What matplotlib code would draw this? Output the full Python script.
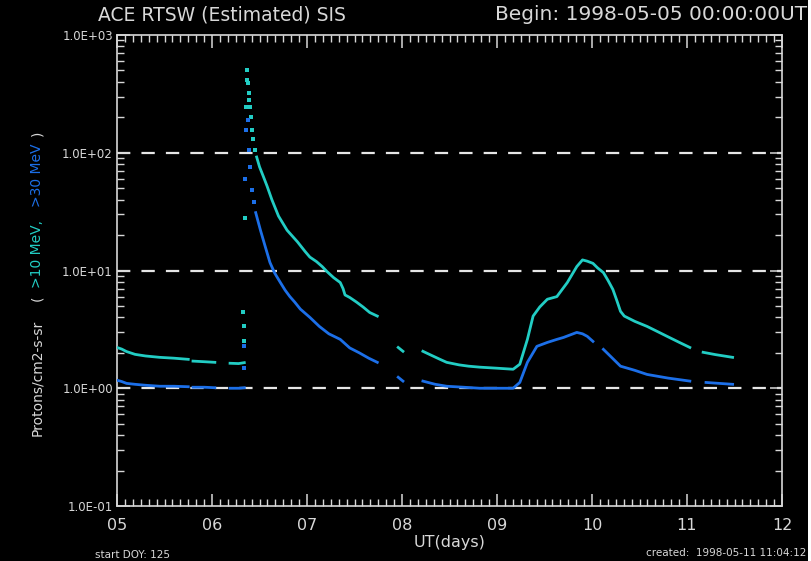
import numpy as np
import matplotlib
matplotlib.use("Agg")
import matplotlib.pyplot as plt
from matplotlib.ticker import FixedLocator, MultipleLocator, LogLocator, FuncFormatter, NullFormatter
from matplotlib.patches import Rectangle

nan = np.nan

# >10 MeV proton flux, dense part (day of May 1998, pfu); nan marks data gaps
p10_day = [5.00, 5.05, 5.10, 5.19, 5.30, 5.45, 5.60, 5.75, nan,
           5.80, 5.92, 6.03, nan,
           6.19, 6.28, 6.34, nan,
           6.47, 6.50, 6.54, 6.58, 6.63, 6.70, 6.79, 6.90, 6.98, 7.03, 7.10,
           7.16, 7.21, 7.28, 7.35, 7.38, 7.40, 7.45, 7.52, 7.59, 7.66, 7.74, nan,
           7.96, 8.01, nan,
           8.22, 8.30, 8.40, 8.47, 8.60, 8.70, 8.82, 9.00, 9.17, 9.24, 9.32,
           9.38, 9.45, 9.53, 9.63, 9.74, 9.84, 9.90, 9.95, 10.01, 10.06, 10.12,
           10.17, 10.22, 10.26, 10.30, 10.34, 10.45, 10.58, 10.70, 10.79, 10.92,
           11.03, nan,
           11.17, 11.30, 11.48]
p10_flux = [2.22, 2.15, 2.05, 1.94, 1.88, 1.83, 1.80, 1.76, nan,
            1.70, 1.68, 1.66, nan,
            1.63, 1.62, 1.65, nan,
            92, 76, 63, 52, 40, 29, 22, 17.5, 14.5, 13.0, 11.9,
            10.8, 9.8, 8.7, 7.9, 7.0, 6.2, 5.9, 5.4, 4.9, 4.4, 4.1, nan,
            2.22, 2.06, nan,
            2.06, 1.92, 1.76, 1.66, 1.58, 1.54, 1.51, 1.48, 1.45, 1.60, 2.6,
            4.1, 4.9, 5.7, 6.0, 7.9, 10.8, 12.3, 12.0, 11.5, 10.5, 9.6,
            8.2, 6.9, 5.6, 4.5, 4.1, 3.7, 3.35, 3.0, 2.76, 2.45,
            2.22, nan,
            2.02, 1.93, 1.83]

# >10 MeV sparse samples around the onset and peak on day 06
p10_spike_day = [6.33, 6.34, 6.34, 6.345, 6.36, 6.37, 6.37, 6.38, 6.39, 6.39,
                 6.40, 6.41, 6.42, 6.43, 6.45]
p10_spike_flux = [4.4, 3.35, 2.5, 28, 245, 500, 415, 390, 320, 280,
                  245, 200, 157, 130, 105]

# >30 MeV proton flux, dense part
p30_day = [5.00, 5.05, 5.10, 5.19, 5.30, 5.45, 5.60, 5.75, nan,
           5.80, 5.92, 6.03, nan,
           6.19, 6.28, 6.34, nan,
           6.46, 6.51, 6.56, 6.61, 6.66, 6.72, 6.77, 6.82, 6.87, 6.93, 7.03,
           7.13, 7.23, 7.35, 7.45, 7.55, 7.65, 7.74, nan,
           7.96, 8.01, nan,
           8.22, 8.35, 8.47, 8.65, 8.82, 9.00, 9.17, 9.24, 9.32, 9.42, 9.53,
           9.63, 9.70, 9.84, 9.90, 9.95, 10.01, nan,
           10.12, 10.20, 10.30, 10.45, 10.58, 10.80, 11.03, nan,
           11.20, 11.48]
p30_flux = [1.17, 1.14, 1.10, 1.08, 1.06, 1.04, 1.04, 1.03, nan,
            1.02, 1.02, 1.01, nan,
            1.00, 1.00, 1.01, nan,
            31, 22, 16, 11.7, 9.5, 7.9, 6.8, 6.0, 5.4, 4.7, 4.0,
            3.35, 2.9, 2.6, 2.2, 2.0, 1.8, 1.66, nan,
            1.24, 1.15, nan,
            1.15, 1.08, 1.04, 1.02, 1.00, 1.00, 1.00, 1.12, 1.66, 2.27, 2.45,
            2.6, 2.7, 2.98, 2.9, 2.76, 2.5, nan,
            2.14, 1.85, 1.54, 1.42, 1.31, 1.22, 1.15, nan,
            1.12, 1.08]

# >30 MeV sparse samples around the onset and peak
p30_spike_day = [6.34, 6.34, 6.35, 6.36, 6.38, 6.39, 6.40, 6.42, 6.44]
p30_spike_flux = [1.5, 2.3, 60, 157, 190, 106, 76, 48, 38]

day_ticks = [5, 6, 7, 8, 9, 10, 11, 12]
day_labels = ["05", "06", "07", "08", "09", "10", "11", "12"]
grid_levels = [1.0, 10.0, 100.0]

fg = "#d8d8d8"
c10 = "#22cdc4"
c30 = "#1c6fe8"

fig = plt.figure(figsize=(8.11, 5.61), dpi=100, facecolor="black")
ax = fig.add_axes([117 / 811, 1 - 506 / 561, 665 / 811, 471 / 561])
ax.set_facecolor("black")
ax.set_yscale("log")
ax.set_xlim(5, 12)
ax.set_ylim(0.1, 1000)

for lev in grid_levels:
    ax.axhline(lev, color="#e6e6e6", lw=1.6, ls=(0, (6, 5)), zorder=1)

ax.plot(p10_day, p10_flux, color=c10, lw=2.0, zorder=3)
ax.plot(p30_day, p30_flux, color=c30, lw=2.0, zorder=3)
ax.plot(p10_spike_day, p10_spike_flux, ls="none", marker="s", ms=2.2,
        color=c10, mew=0, zorder=3)
ax.plot(p30_spike_day, p30_spike_flux, ls="none", marker="s", ms=2.2,
        color=c30, mew=0, zorder=3)

for sp in ax.spines.values():
    sp.set_color(fg)
    sp.set_linewidth(1.2)

ax.xaxis.set_major_locator(FixedLocator(day_ticks))
ax.set_xticklabels(day_labels)
ax.xaxis.set_minor_locator(MultipleLocator(1 / 12))
ax.yaxis.set_major_locator(LogLocator(base=10, numticks=10))
ax.yaxis.set_minor_locator(LogLocator(base=10, subs=np.arange(2, 10), numticks=10))
ax.yaxis.set_major_formatter(FuncFormatter(lambda v, p: f"{v:.1E}"))
ax.yaxis.set_minor_formatter(NullFormatter())

ax.tick_params(which="both", direction="in", top=True, right=True, colors=fg)
ax.tick_params(which="major", length=9, width=1.1)
ax.tick_params(which="minor", length=5, width=1.0)
ax.tick_params(axis="x", which="major", labelsize=11.5, pad=9)
ax.tick_params(axis="y", which="major", labelsize=8.5, pad=3)

ax.set_xlabel("UT(days)", color=fg, fontsize=11.5, labelpad=1)

# titles
fig.text(222 / 811, 1 - 15 / 561, "ACE RTSW (Estimated) SIS", color=fg,
         fontsize=13.5, ha="center", va="center")
fig.text(807 / 811, 1 - 15 / 561, "Begin: 1998-05-05 00:00:00UT", color=fg,
         fontsize=14.5, ha="right", va="center")
fig.text(95 / 811, 1 - 555 / 561, "start DOY: 125", color=fg, fontsize=7.5,
         ha="left", va="center")
fig.text(806 / 811, 1 - 553 / 561, "created:  1998-05-11 11:04:12", color=fg,
         fontsize=7.5, ha="right", va="center")

# y axis label in three colours
xl = 37 / 811
fig.text(xl, 1 - 378 / 561, "Protons/cm2-s-sr", color=fg, fontsize=10,
         rotation=90, ha="center", va="center")
fig.text(xl, 1 - 298 / 561, "(", color=fg, fontsize=10,
         rotation=90, ha="center", va="center")
fig.text(xl, 1 - 254 / 561, ">10 MeV,", color=c10, fontsize=10,
         rotation=90, ha="center", va="center")
fig.text(xl, 1 - 175 / 561, ">30 MeV", color=c30, fontsize=10,
         rotation=90, ha="center", va="center")
fig.text(xl, 1 - 133 / 561, ")", color=fg, fontsize=10,
         rotation=90, ha="center", va="center")

fig.patches.append(Rectangle((808 / 811, 0), 3 / 811, 1, transform=fig.transFigure,
                             facecolor="white", edgecolor="none"))

fig.savefig("out.png", dpi=100, facecolor="black")
